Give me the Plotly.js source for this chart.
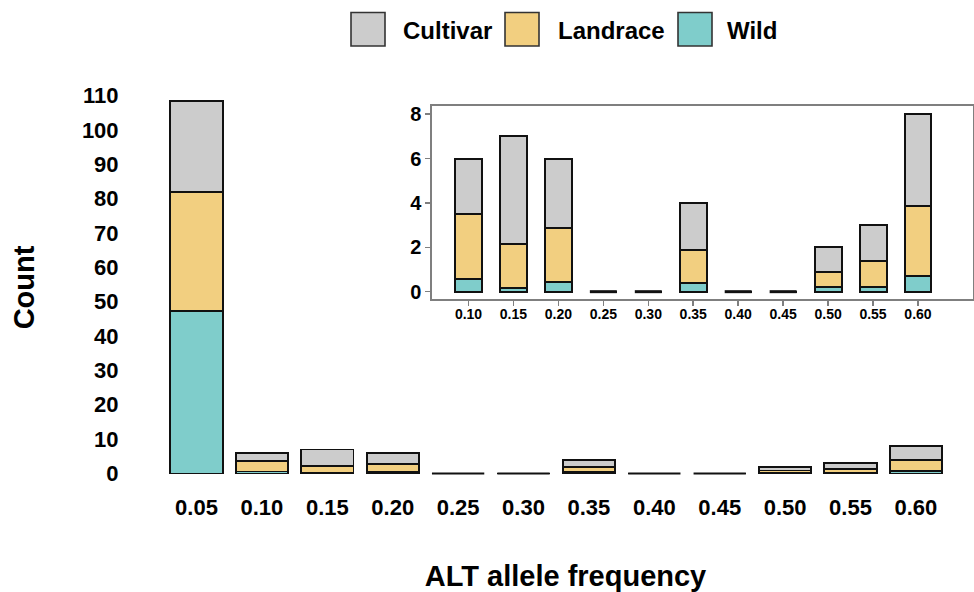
<!DOCTYPE html>
<html>
<head>
<meta charset="utf-8">
<script src="https://cdn.plot.ly/plotly-3.0.1.min.js"></script>
<style>
  html, body { margin: 0; padding: 0; background: #ffffff; }
  #chart { width: 974px; height: 592px; }
</style>
</head>
<body>
<div id="chart"></div>
<script>
// ALT allele frequency bins
var freqBins = ['0.05', '0.10', '0.15', '0.20', '0.25', '0.30', '0.35', '0.40', '0.45', '0.50', '0.55', '0.60'];

// Counts per group in each bin (stacked bottom to top: Wild, Landrace, Cultivar)
var wildCounts     = [47.3, 0.59, 0.15, 0.44, 0, 0, 0.39, 0, 0, 0.20, 0.21, 0.71];
var landraceCounts = [34.6, 2.93, 2.00, 2.45, 0, 0, 1.47, 0, 0, 0.67, 1.17, 3.14];
var cultivarCounts = [26.5, 2.48, 4.85, 3.11, 0, 0, 2.14, 0, 0, 1.13, 1.62, 4.15];

// Group names and fills
var groupNames  = ['Cultivar', 'Landrace', 'Wild'];
var groupColors = ['#cccccc', '#f2cf80', '#7fcdcb'];

// Axis ticks
var mainYTicks  = [0, 10, 20, 30, 40, 50, 60, 70, 80, 90, 100, 110];
var insetYTicks = [0, 2, 4, 6, 8];

// ---- layout geometry (pixels) ----
var W = 974, H = 592;
var ML = 157, MR = 0, MT = 83, MB = 100;
var PW = W - ML - MR, PH = H - MT - MB;
function fx(px) { return (px - ML) / PW; }
function fy(py) { return (H - MB - py) / PH; }

var FONT = 'Liberation Sans, Arial, sans-serif';
var OUTLINE = '#111111';

var seriesData = { 'Cultivar': cultivarCounts, 'Landrace': landraceCounts, 'Wild': wildCounts };
var stackOrder = ['Wild', 'Landrace', 'Cultivar'];

var traces = [];
// main panel
stackOrder.forEach(function (name) {
  traces.push({
    type: 'bar', name: name, x: freqBins, y: seriesData[name],
    xaxis: 'x', yaxis: 'y', width: 0.8, showlegend: false, hoverinfo: 'x+y+name',
    marker: { color: groupColors[groupNames.indexOf(name)], line: { color: OUTLINE, width: 1.9 } }
  });
});
// inset panel (bins from 0.10 upward)
var insetBins = freqBins.slice(1);
stackOrder.forEach(function (name) {
  traces.push({
    type: 'bar', name: name, x: insetBins, y: seriesData[name].slice(1),
    xaxis: 'x2', yaxis: 'y2', width: 0.6, showlegend: false, hoverinfo: 'x+y+name',
    marker: { color: groupColors[groupNames.indexOf(name)], line: { color: OUTLINE, width: 2 } }
  });
});

var shapes = [];
// empty bins drawn as a flat outline at zero
freqBins.forEach(function (b, i) {
  var total = wildCounts[i] + landraceCounts[i] + cultivarCounts[i];
  if (total === 0) {
    shapes.push({ type: 'line', xref: 'x', yref: 'y', x0: i - 0.4, x1: i + 0.4, y0: 0, y1: 0,
                  line: { color: OUTLINE, width: 2 } });
    shapes.push({ type: 'line', xref: 'x2', yref: 'y2', x0: i - 1 - 0.3, x1: i - 1 + 0.3, y0: 0, y1: 0,
                  line: { color: OUTLINE, width: 3 } });
  }
});

// legend keys across the top
var annotations = [];
var legendKeys = [
  { box: 351, text: 401 },
  { box: 505, text: 556 },
  { box: 678, text: 725 }
];
groupNames.forEach(function (name, k) {
  var L = legendKeys[k];
  shapes.push({ type: 'rect', xref: 'paper', yref: 'paper',
    x0: fx(L.box), x1: fx(L.box + 34), y0: fy(46), y1: fy(12.5),
    fillcolor: groupColors[k], line: { color: '#333333', width: 1.6 } });
  annotations.push({ xref: 'paper', yref: 'paper', x: fx(L.text), y: fy(30),
    xanchor: 'left', yanchor: 'middle', showarrow: false, text: name,
    font: { family: FONT, size: 24, color: '#000000', weight: 'bold' } });
});

var layout = {
  width: W, height: H,
  margin: { l: ML, r: MR, t: MT, b: MB, pad: 0 },
  paper_bgcolor: '#ffffff', plot_bgcolor: 'rgba(0,0,0,0)',
  barmode: 'stack', bargap: 0,
  showlegend: false,
  xaxis: {
    domain: [0, 1], range: [-0.604, 11.888], type: 'category',
    showgrid: false, zeroline: false, showline: false,
    ticks: '', ticklabelstandoff: 0,
    tickfont: { family: FONT, size: 22, color: '#000000', weight: 'bold' },
    title: { text: 'ALT allele frequency', standoff: 50,
      font: { family: FONT, size: 29, color: '#000000', weight: 'bold' } },
    automargin: false, fixedrange: true
  },
  yaxis: {
    domain: [0, 1], range: [-5.38, 113.65],
    tickvals: mainYTicks, ticktext: mainYTicks.map(String),
    showgrid: false, zeroline: false, showline: false,
    ticks: 'outside', ticklen: 33, tickcolor: 'rgba(0,0,0,0)',
    tickfont: { family: FONT, size: 22, color: '#000000', weight: 'bold' },
    title: { text: 'Count', standoff: 38,
      font: { family: FONT, size: 29, color: '#000000', weight: 'bold' } },
    automargin: false, fixedrange: true
  },
  xaxis2: {
    domain: [fx(432), fx(973)], range: [-0.812, 11.224], type: 'category',
    anchor: 'y2', showgrid: false, zeroline: false,
    showline: true, mirror: true, linecolor: '#7f7f7f', linewidth: 1.6,
    ticks: 'outside', ticklen: 5, tickwidth: 1.5, tickcolor: '#7f7f7f',
    ticklabelstandoff: -3,
    tickfont: { family: FONT, size: 14, color: '#000000', weight: 'bold' },
    automargin: false, fixedrange: true
  },
  yaxis2: {
    domain: [fy(299), fy(106)], range: [-0.33, 8.37],
    anchor: 'x2', tickvals: insetYTicks, ticktext: insetYTicks.map(String),
    showgrid: false, zeroline: false,
    showline: true, mirror: true, linecolor: '#7f7f7f', linewidth: 1.6,
    ticks: 'outside', ticklen: 5, tickwidth: 1.5, tickcolor: '#7f7f7f',
    tickfont: { family: FONT, size: 20, color: '#000000', weight: 'bold' },
    automargin: false, fixedrange: true
  },
  shapes: shapes,
  annotations: annotations
};

Plotly.newPlot('chart', traces, layout, { displayModeBar: false, staticPlot: true });
</script>
</body>
</html>
